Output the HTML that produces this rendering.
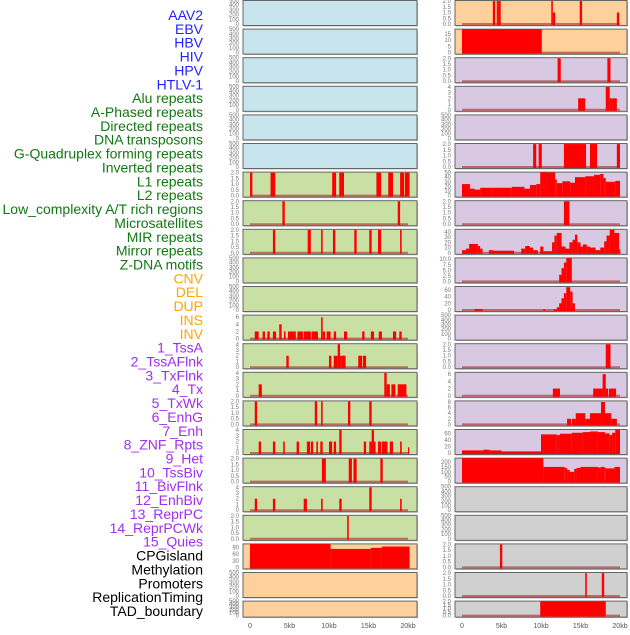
<!DOCTYPE html>
<html><head><meta charset="utf-8">
<style>
html,body{margin:0;padding:0;background:#fff;}
body{width:630px;height:630px;overflow:hidden;font-family:"Liberation Sans",sans-serif;}
svg text{font-family:"Liberation Sans",sans-serif;}
</style></head>
<body>
<svg id="chart" width="630" height="630" viewBox="0 0 630 630" xmlns="http://www.w3.org/2000/svg"></svg>
<script>
// ---------- data ----------
const trackLabels = ["AAV2","EBV","HBV","HIV","HPV","HTLV-1","Alu repeats","A-Phased repeats","Directed repeats","DNA transposons","G-Quadruplex forming repeats","Inverted repeats","L1 repeats","L2 repeats","Low_complexity A/T rich regions","Microsatellites","MIR repeats","Mirror repeats","Z-DNA motifs","CNV","DEL","DUP","INS","INV","1_TssA","2_TssAFlnk","3_TxFlnk","4_Tx","5_TxWk","6_EnhG","7_Enh","8_ZNF_Rpts","9_Het","10_TssBiv","11_BivFlnk","12_EnhBiv","13_ReprPC","14_ReprPCWk","15_Quies","CPGisland","Methylation","Promoters","ReplicationTiming","TAD_boundary"];
const labelGroups = [6,13,5,15,5];
const groupColors = ["#2222ff","#137713","#ffa500","#a02ff0","#000000"];

const xTickValues = [0,5,10,15,20];
const xTickLabels = ["0","5kb","10kb","15kb","20kb"];

const ticksEmpty = ["0","100","200","300","400","500"];
const ticks2 = ["0.0","0.5","1.0","1.5","2.0"];

// bars: [startKb, endKb, value]
const c1r7 = [[0,0.3,2],[2.6,3.2,2],[10.4,10.9,2],[11.3,11.9,2],[16,16.6,2],[17.5,18.1,2],[19,19.5,2],[19.6,20.2,2]];
const c1r8 = [[4.1,4.4,2],[18.7,19,2]];
const c1r9 = [[2.9,3.2,2],[7.3,7.7,2],[9,9.2,2],[10.5,10.8,2],[13.2,13.5,2],[15.1,15.4,2],[16.2,16.6,2],[19,19.2,2]];
const c1r12 = [[0.6,1.1,2],[1.6,1.9,2],[2.2,2.5,2],[2.9,3.3,2],[3.7,4,4],[4.3,4.5,2],[4.8,5.8,2],[6,6.7,2],[6.8,7.7,2],[7.8,8.6,2],[9,9.2,6],[9.2,9.5,2],[9.7,10.2,2],[10.6,10.9,2],[11.9,12.3,2],[14.2,14.5,2],[15.3,15.7,2],[16.3,16.7,2],[18.1,18.5,2],[18.9,19.2,2]];
const c1r13 = [[4.6,4.9,2],[10,10.3,2],[10.6,11.1,2],[11.1,11.4,4],[11.4,11.6,2],[11.6,12.1,2],[13.7,14.2,2],[14.3,14.7,2]];
const c1r14 = [[1.1,1.5,2],[17,17.3,4],[17.3,17.7,2],[17.9,18.4,2],[18.7,19.8,2]];
const c1r15 = [[0.6,0.9,2],[8.2,8.5,2],[9,9.2,2],[12.4,12.7,2],[15.1,15.4,2]];
const c1r16 = [[1.1,1.4,2],[2.9,3.2,2],[4.2,4.4,2],[5.9,6.2,2],[7.2,7.6,2],[7.7,8,2],[8.4,8.6,2],[8.9,9.2,2],[10,10.4,2],[10.6,10.9,2],[11.3,11.6,4],[14.4,14.7,2],[15.1,15.4,2],[15.4,15.7,4],[15.7,15.9,2],[16.2,16.6,2],[16.7,17.4,2],[17.7,18.1,2],[19,19.2,2],[20,20.1,1]];
const c1r17 = [[9.1,9.6,2],[12.5,12.9,2],[13.1,13.5,2],[16.5,16.8,2]];
const c1r18 = [[0.6,0.9,2],[2.9,3.2,2],[6.8,7.2,2],[9,9.2,2],[11.3,11.6,2],[15.1,15.4,4],[19,19.2,2]];
const c1r19 = [[12.3,12.5,2]];
const c1r20 = [[0,10.2,107],[10.2,15.3,84],[15.3,16.7,89],[16.7,20.2,95]];

const c2r1 = [[3.9,4.2,2],[4.4,4.6,2],[4.6,4.9,2],[11.3,11.5,2],[11.5,11.8,1],[14.9,15.2,2],[19.6,19.9,1]];
const c2r2 = [[0,10.1,19]];
const c2r3 = [[12.1,12.5,2],[18.4,18.8,2]];
const c2r4 = [[14.7,15.6,2],[18.2,18.7,4],[18.7,19,2],[19,19.6,2]];
const c2r6 = [[9,9.4,2],[9.7,10.1,2],[12.9,15.7,2],[16.2,17.1,2],[19.6,20,2]];
const c2r7 = [[0,1,25],[1,1.6,15],[1.6,2.3,13],[2.3,3.7,17],[3.7,6.3,17],[6.3,7.9,19],[7.9,8.6,15],[8.6,9.4,23],[9.4,9.9,25],[9.9,10.7,52],[10.7,11.8,50],[11.8,12,35],[12,12.7,27],[12.7,13.7,31],[13.7,14.3,28],[14.3,15.6,40],[15.6,16.7,42],[16.7,17.5,45],[17.5,17.9,47],[17.9,18.2,38],[18.2,19.4,30],[19.4,20,32]];
const c2r8 = [[12.9,13.6,2]];
const c2r9 = [[0,0.5,5],[0.5,0.9,8],[0.9,2,17],[2,2.3,13],[2.3,2.6,8],[3.4,4,5],[4,6.6,4],[7.5,8,8],[8,8.6,13],[8.6,9,10],[9,9.6,5],[9.9,10.3,12],[10.3,11.4,3],[11.4,11.7,20],[11.7,12,33],[12,12.6,38],[12.6,13.1,12],[13.1,13.6,8],[13.6,14,20],[14,14.3,25],[14.3,14.6,35],[14.6,15,20],[15,15.3,12],[15.3,15.8,16],[15.8,16.2,12],[16.2,16.9,10],[16.9,17.5,5],[17.5,18,10],[18,18.3,22],[18.3,18.7,33],[18.7,19.3,44],[19.3,19.9,38],[19.9,20,7]];
const c2r10 = [[12.3,12.6,3],[12.6,12.9,6],[12.9,13.2,8.5],[13.2,13.9,10.5]];
const c2r11 = [[1.6,2.6,3],[10.3,10.5,2],[11.6,12,2],[12,12.3,8],[12.3,12.6,20],[12.6,12.9,35],[12.9,13.2,50],[13.2,13.7,68],[13.7,14,55],[14,14.3,20]];
const c2r13 = [[18.2,18.8,2]];
const c2r14 = [[11.5,12.4,2],[16.6,17.8,2],[17.8,18.2,6],[18.2,18.5,2],[18.6,19.5,2]];
const c2r15 = [[13.3,13.8,2],[13.9,14.4,2],[14.4,15.6,4],[15.6,16.2,2],[16.2,17.6,4],[17.6,18.1,8],[18.1,18.9,4],[18.9,19.6,2]];
const c2r16 = [[0,2.7,8],[2.7,3.5,10],[3.5,5,8],[5,10,5],[10,12,57],[12,12.4,55],[12.4,13.9,59],[13.9,15.3,62],[15.3,16.2,64],[16.2,17.2,66],[17.2,18.1,64],[18.1,18.7,60],[18.7,19,55],[19,19.4,62],[19.4,20,72]];
const c2r17 = [[0,10.3,240],[10.3,13,150],[13,13.3,140],[13.3,13.6,120],[13.6,14.2,100],[14.2,14.5,130],[14.5,15,140],[15,17.2,150],[17.2,17.6,145],[17.6,18,150],[18,18.2,145],[18.2,19.3,135],[19.3,20,150]];
const c2r20 = [[4.8,5.1,2]];
const c2r21 = [[15.6,15.8,2],[17.7,18,2]];
const c2r22 = [[9.9,18.2,2]];

// panel definitions: [col,row,bgKey,ticks,tickMax,yTop,bars]
const BG = {blue:"#c8e4ec",green:"#c8e0a4",peach:"#fdd09c",lav:"#d8c8e2",gray:"#d0d0d0"};
const panels = [];
function col1(r){return r<=6?"blue":(r<=19?"green":"peach");}
function col2(r){return r<=2?"peach":(r<=17?"lav":"gray");}
const c1Data = {7:[c1r7,ticks2,2,2.05],8:[c1r8,ticks2,2,2.05],9:[c1r9,ticks2,2,2.05],12:[c1r12,["0","2","4","6"],6,6.6],13:[c1r13,["0","1","2","3","4"],4,4.1],14:[c1r14,["0","1","2","3","4"],4,4.1],15:[c1r15,ticks2,2,2.05],16:[c1r16,["0","1","2","3","4"],4,4.1],17:[c1r17,ticks2,2,2.05],18:[c1r18,["0","1","2","3","4"],4,4.1],19:[c1r19,ticks2,2,2.05],20:[c1r20,["0","30","60","90"],90,107]};
const c2Data = {1:[c2r1,ticks2,2,2.05],2:[c2r2,["0","5","10","15"],15,19],3:[c2r3,ticks2,2,2.05],4:[c2r4,["0","1","2","3","4"],4,4.1],6:[c2r6,ticks2,2,2.05],7:[c2r7,["0","10","20","30","40","50"],50,51],8:[c2r8,ticks2,2,2.05],9:[c2r9,["0","10","20","30","40"],40,45],10:[c2r10,["0.0","2.5","5.0","7.5","10.0"],10,10.6],11:[c2r11,["0","20","40","60"],60,70],13:[c2r13,ticks2,2,2.05],14:[c2r14,["0","2","4","6"],6,6.5],15:[c2r15,["0","2","4","6","8"],8,8.4],16:[c2r16,["0","20","40","60"],60,72],17:[c2r17,["0","50","100","150","200"],200,240],20:[c2r20,ticks2,2,2.05],21:[c2r21,ticks2,2,2.05],22:[c2r22,ticks2,2,2.05]};

// ---------- drawing ----------
const NS="http://www.w3.org/2000/svg";
const svg=document.getElementById("chart");
function mk(tag,attrs,parent){const e=document.createElementNS(NS,tag);for(const k in attrs)e.setAttribute(k,attrs[k]);(parent||svg).appendChild(e);return e;}

// labels
let li=0;
labelGroups.forEach((n,g)=>{for(let j=0;j<n;j++){const t=mk("text",{x:203,y:15+li*13.86+5,"text-anchor":"end","font-size":"14",fill:groupColors[g]});t.textContent=trackLabels[li];


li++;}});

const cols=[{x0:243,x1:417,zero:250},{x0:455,x1:627,zero:462}];
const pxPerKb=7.9;
function xScale(c,kb){return cols[c].zero+kb*pxPerKb;}

for(let r=1;r<=22;r++){
  const top=0.5+(r-1)*28.6;
  const h=r===22?16:25;
  for(let c=0;c<2;c++){
    const col=cols[c];
    const bgKey=c===0?col1(r):col2(r);
    const d=(c===0?c1Data:c2Data)[r];
    const g=mk("g",{});
    
    
    mk("rect",{x:col.x0+1,y:top+1,width:col.x1-col.x0,height:h,fill:"#bbb"},g);
    mk("rect",{x:col.x0,y:top,width:col.x1-col.x0,height:h,fill:BG[bgKey],stroke:"#666","stroke-width":1},g);
    const bottom=top+h;
    const ticks=d?d[1]:ticksEmpty;
    const tmax=d?d[2]:500;
    const yTop=d?d[3]:500;
    const y0=bottom-1.5;
    function yScale(v){return y0-(v/yTop)*(h-1.5);}
    ticks.forEach(tl=>{const v=parseFloat(tl);const t=mk("text",{x:col.x0-4,y:yScale(v)+2,"text-anchor":"end","font-size":"6",fill:"#777"},g);t.textContent=tl;
      
      });
    if(d){
      const clipId="cp"+c+"_"+r;
      const cp=mk("clipPath",{id:clipId},g);
      mk("rect",{x:col.x0,y:top,width:col.x1-col.x0,height:h},cp);
      const bg2=mk("g",{"clip-path":"url(#"+clipId+")"},g);
      mk("line",{x1:xScale(c,0),x2:xScale(c,20),y1:y0,y2:y0,stroke:"rgba(170,20,20,0.55)","stroke-width":2},bg2);
      d[0].forEach(b=>{const ya=yScale(b[2]);const rc=mk("rect",{x:xScale(c,b[0]),y:ya,width:Math.max(1.2,xScale(c,b[1])-xScale(c,b[0])),height:y0+1-ya,fill:"#ff0000"},bg2);
        
        });
    }
  }
}
// x axes
for(let c=0;c<2;c++){
  xTickValues.forEach((v,i)=>{const t=mk("text",{x:xScale(c,v),y:628,"text-anchor":"middle","font-size":"7",fill:"#555"});t.textContent=xTickLabels[i];
    
    });
}
</script>
</body></html>
